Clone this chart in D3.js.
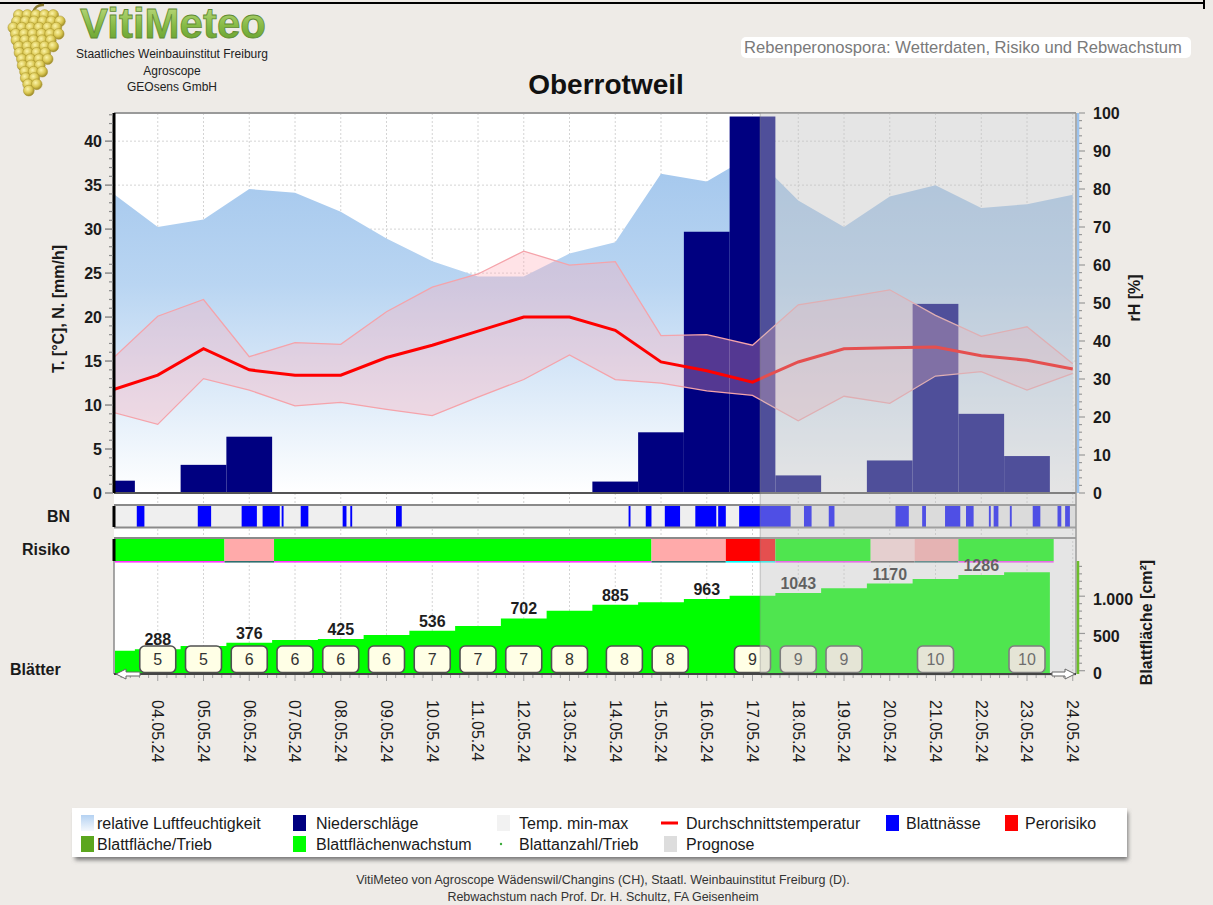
<!DOCTYPE html>
<html lang="de">
<head>
<meta charset="utf-8">
<title>VitiMeteo Oberrotweil</title>
<script src="https://d3js.org/d3.v7.min.js"></script>
<style>
  body { margin: 0; background: #EEEBE7; }
  svg { display: block; font-family: "Liberation Sans", Arial, sans-serif; }
</style>
</head>
<body>
<div id="chart"></div>
<script>
// daily values, index 0 = 03.05.24
const dates = ['03.05.24','04.05.24','05.05.24','06.05.24','07.05.24','08.05.24','09.05.24','10.05.24',
  '11.05.24','12.05.24','13.05.24','14.05.24','15.05.24','16.05.24','17.05.24','18.05.24','19.05.24',
  '20.05.24','21.05.24','22.05.24','23.05.24','24.05.24'];
const humidity = [79, 70, 72, 80, 79, 74, 67, 61, 57, 57, 63, 66, 84, 82, 89, 77, 70, 78, 81, 75, 76, 78.5];
const tempMean = [11.7, 13.4, 16.4, 14.0, 13.4, 13.4, 15.4, 16.8, 18.4, 20.0, 20.0, 18.5, 14.9, 13.9, 12.6, 14.9, 16.4, 16.5, 16.6, 15.6, 15.1, 14.1];
const tempMax = [15.2, 20.1, 22.0, 15.5, 17.1, 16.9, 20.6, 23.4, 24.9, 27.5, 25.9, 26.3, 17.9, 18.0, 16.8, 21.4, 22.2, 23.1, 20.2, 17.8, 18.9, 14.7];
const tempMin = [9.2, 7.8, 13.0, 11.7, 9.9, 10.3, 9.5, 8.8, 10.9, 12.9, 15.7, 12.9, 12.5, 11.6, 11.1, 8.2, 11.0, 10.2, 13.3, 13.8, 11.7, 13.6];
const rain = [1.4, 0, 3.2, 6.4, 0, 0, 0, 0, 0, 0, 0, 1.3, 6.9, 29.7, 42.8, 2.0, 0, 3.7, 21.5, 9.0, 4.2, 0];

// leaf wetness periods, hours after 03.05.24 00:00
const wetFrom = [13, 45, 68, 79, 89, 99, 121, 125, 149, 271, 280, 290, 306, 318, 329, 363, 376, 411, 425, 437, 448, 460, 462.5, 471, 483, 496, 500];
const wetTo   = [17, 52, 76, 88, 90, 103, 123, 126, 152, 272, 283, 298, 317, 322, 356, 367, 379, 418, 427, 445, 452, 461, 465, 472, 487, 498, 502.5];

// infection risk periods, hours after 03.05.24 00:00
const riskFrom  = [0, 59, 85, 283, 322, 348, 398, 421, 444];
const riskTo    = [59, 85, 283, 322, 348, 398, 421, 444, 494];
const riskLevel = ['low', 'mid', 'low', 'mid', 'high', 'low', 'slight', 'mid', 'low'];

// leaf area per shoot [cm²], index 0 = 03.05.24
const leafArea = [268, 288, 332, 376, 412, 425, 479, 536, 600, 702, 805, 885, 918, 963, 1007, 1043, 1106, 1170, 1231, 1286, 1321];
const leafLabelDays = [1, 3, 5, 7, 9, 11, 13, 15, 17, 19];
const leafCountDay = [1, 2, 3, 4, 5, 6, 7, 8, 9, 10, 11.2, 12.2, 14, 15, 16, 18, 20];
const leafCount    = [5, 5, 6, 6, 6, 6, 7, 7, 7, 8, 8, 8, 9, 9, 9, 10, 10];

const forecastStart = 14.17;
const tempTicks = [0, 5, 10, 15, 20, 25, 30, 35, 40];
const humTicks = [0, 10, 20, 30, 40, 50, 60, 70, 80, 90, 100];
const areaTicks = [0, 500, 1000];

const riskColor = { low: '#00FF00', slight: '#FFDADA', mid: '#FFAAAA', high: '#FF0000' };
const riskLine  = { low: '#FF33FF', slight: '#555555', mid: '#2F6F6F', high: '#00FFFF' };

const W = 1213, H = 905;
const plotL = 114, plotR = 1076;
const mainTop = 113, mainBot = 493;
const bnTop = 506, bnBot = 527;
const riskTop = 539, riskBot = 561;
const leafTop = 561, leafBot = 674;

const svg = d3.select('#chart').append('svg').attr('width', W).attr('height', H);
const defs = svg.append('defs');

const x = d3.scaleLinear().domain([0, 21]).range([112, 1072.75]);
const yT = d3.scaleLinear().domain([0, 43.2]).range([mainBot, mainTop]);
const yH = d3.scaleLinear().domain([0, 100]).range([mainBot, mainTop]);
const yA = d3.scaleLinear().domain([0, 1000]).range([670.7, 596.2]);
const xh = h => x(h / 24);

defs.append('clipPath').attr('id', 'clipMain')
  .append('rect').attr('x', plotL).attr('y', mainTop).attr('width', plotR - plotL).attr('height', mainBot - mainTop);
defs.append('clipPath').attr('id', 'clipAll')
  .append('rect').attr('x', plotL + 1).attr('y', mainTop).attr('width', plotR - plotL - 1).attr('height', leafBot - mainTop);

const humGrad = defs.append('linearGradient').attr('id', 'humGrad')
  .attr('gradientUnits', 'userSpaceOnUse').attr('x1', 0).attr('x2', 0).attr('y1', mainTop).attr('y2', mainBot);
humGrad.append('stop').attr('offset', 0).attr('stop-color', '#9CC2EB');
humGrad.append('stop').attr('offset', 0.45).attr('stop-color', '#B9D5F2');
humGrad.append('stop').attr('offset', 1).attr('stop-color', '#FFFFFF');

const legGrad = defs.append('linearGradient').attr('id', 'legGrad').attr('x1', 0).attr('x2', 0).attr('y1', 0).attr('y2', 1);
legGrad.append('stop').attr('offset', 0).attr('stop-color', '#B5D2F2');
legGrad.append('stop').attr('offset', 1).attr('stop-color', '#F4F8FD');

const logoGrad = defs.append('linearGradient').attr('id', 'logoGrad').attr('x1', 0).attr('x2', 0).attr('y1', 0).attr('y2', 1);
logoGrad.append('stop').attr('offset', 0).attr('stop-color', '#C9E28C');
logoGrad.append('stop').attr('offset', 0.55).attr('stop-color', '#86BA45');
logoGrad.append('stop').attr('offset', 1).attr('stop-color', '#5E9A2A');

const grapeGrad = defs.append('radialGradient').attr('id', 'grapeGrad').attr('cx', 0.4).attr('cy', 0.35).attr('r', 0.65);
grapeGrad.append('stop').attr('offset', 0).attr('stop-color', '#FBF3A8');
grapeGrad.append('stop').attr('offset', 0.6).attr('stop-color', '#D9C650');
grapeGrad.append('stop').attr('offset', 1).attr('stop-color', '#9C8A28');

defs.append('filter').attr('id', 'blur').append('feGaussianBlur').attr('stdDeviation', 2);

svg.append('rect').attr('width', W).attr('height', H).attr('fill', '#EEEBE7');
svg.append('line').attr('x1', 0).attr('x2', 1204).attr('y1', 3).attr('y2', 3).attr('stroke', '#000').attr('stroke-width', 2);
svg.append('line').attr('x1', 1204).attr('x2', 1204).attr('y1', 0).attr('y2', 9).attr('stroke', '#000').attr('stroke-width', 2);

// logo: grape cluster drawn from rows of berries
const logo = svg.append('g');
const berryRows = [5, 6, 6, 6, 5, 5, 4, 4, 3, 3, 2, 2, 1];
logo.append('path').attr('d', 'M33,12 Q36,4 44,5').attr('fill', 'none').attr('stroke', '#8A7A30').attr('stroke-width', 2.5);
berryRows.forEach((n, r) => {
  const cx0 = 37 - r * 0.6 - (n - 1) * 4.3 + (r % 2 ? 2 : -1);
  for (let k = 0; k < n; k++) {
    logo.append('circle')
      .attr('cx', cx0 + k * 8.6)
      .attr('cy', 15 + r * 6.3)
      .attr('r', 5.4)
      .attr('fill', 'url(#grapeGrad)')
      .attr('stroke', '#A8952F').attr('stroke-width', 0.5);
  }
});
logo.append('text').attr('x', 80).attr('y', 38).text('VitiMeteo')
  .attr('font-size', 42).attr('font-weight', 'bold')
  .attr('fill', 'url(#logoGrad)').attr('stroke', '#5F8A33').attr('stroke-width', 0.8);
[['Staatliches Weinbauinstitut Freiburg', 58], ['Agroscope', 75], ['GEOsens GmbH', 91]].forEach(([t, yy]) => {
  logo.append('text').attr('x', 172).attr('y', yy).attr('text-anchor', 'middle')
    .attr('font-size', 12).attr('fill', '#222').text(t);
});

svg.append('rect').attr('x', 741).attr('y', 37).attr('width', 450).attr('height', 21).attr('rx', 5).attr('fill', '#fff');
svg.append('text').attr('x', 744).attr('y', 53).attr('font-size', 16.6).attr('fill', '#7A7A7A')
  .text('Rebenperonospora: Wetterdaten, Risiko und Rebwachstum');

svg.append('text').attr('x', 606).attr('y', 94).attr('text-anchor', 'middle')
  .attr('font-size', 28).attr('font-weight', 'bold').attr('fill', '#111').text('Oberrotweil');

// plot background and grid
svg.append('rect').attr('x', plotL).attr('y', mainTop).attr('width', plotR - plotL).attr('height', leafBot - mainTop).attr('fill', '#fff');
const grid = svg.append('g').attr('stroke', '#D4D4D4').attr('stroke-dasharray', '2,2').attr('stroke-width', 1);
d3.range(1, 22).forEach(d => {
  grid.append('line').attr('x1', x(d)).attr('x2', x(d)).attr('y1', mainTop).attr('y2', leafBot);
});
tempTicks.slice(1).forEach(t => {
  grid.append('line').attr('x1', plotL).attr('x2', plotR).attr('y1', yT(t)).attr('y2', yT(t));
});

// main panel
const main = svg.append('g').attr('clip-path', 'url(#clipMain)');
main.append('path').datum(humidity)
  .attr('d', d3.area().x((d, i) => x(i)).y0(yH(0)).y1(d => yH(d)))
  .attr('fill', 'url(#humGrad)');
main.selectAll('rect.rain').data(rain).enter().append('rect')
  .attr('class', 'rain')
  .attr('x', (d, i) => x(i - 0.5))
  .attr('width', (d, i) => x(i + 0.5) - x(i - 0.5))
  .attr('y', d => yT(d))
  .attr('height', d => yT(0) - yT(d))
  .attr('fill', '#000080');
main.append('path').datum(d3.range(dates.length))
  .attr('d', d3.area().x(i => x(i)).y0(i => yT(tempMin[i])).y1(i => yT(tempMax[i])))
  .attr('fill', 'rgba(255,170,182,0.33)');
[tempMin, tempMax].forEach(s => {
  main.append('path').datum(s)
    .attr('d', d3.line().x((d, i) => x(i)).y(d => yT(d)))
    .attr('fill', 'none').attr('stroke', '#F5A3AA').attr('stroke-width', 1.3);
});
main.append('path').datum(tempMean)
  .attr('d', d3.line().x((d, i) => x(i)).y(d => yT(d)))
  .attr('fill', 'none').attr('stroke', '#FF0000').attr('stroke-width', 3);

svg.append('line').attr('x1', plotL).attr('x2', plotR).attr('y1', mainTop).attr('y2', mainTop).attr('stroke', '#9A9A9A').attr('stroke-width', 2);
svg.append('line').attr('x1', plotL).attr('x2', plotR).attr('y1', mainBot).attr('y2', mainBot).attr('stroke', '#555').attr('stroke-width', 2);

// BN strip
svg.append('rect').attr('x', plotL).attr('y', bnTop).attr('width', plotR - plotL).attr('height', bnBot - bnTop).attr('fill', '#EFEFEF');
svg.append('g').selectAll('rect').data(wetFrom).enter().append('rect')
  .attr('x', d => xh(d))
  .attr('width', (d, i) => xh(wetTo[i]) - xh(d))
  .attr('y', bnTop).attr('height', bnBot - bnTop)
  .attr('fill', '#0000FF');
[bnTop - 1, bnBot + 0.5].forEach(yy => {
  svg.append('line').attr('x1', plotL).attr('x2', plotR).attr('y1', yy).attr('y2', yy).attr('stroke', '#8A8A8A').attr('stroke-width', 2);
});

// risk strip
svg.append('line').attr('x1', plotL).attr('x2', plotR).attr('y1', riskTop - 1).attr('y2', riskTop - 1).attr('stroke', '#8A8A8A').attr('stroke-width', 2);
const risk = svg.append('g').attr('clip-path', 'url(#clipAll)');
risk.selectAll('rect.seg').data(riskFrom).enter().append('rect')
  .attr('class', 'seg')
  .attr('x', d => xh(d))
  .attr('width', (d, i) => xh(riskTo[i]) - xh(d))
  .attr('y', riskTop).attr('height', riskBot - riskTop)
  .attr('fill', (d, i) => riskColor[riskLevel[i]]);
risk.selectAll('rect.under').data(riskFrom).enter().append('rect')
  .attr('class', 'under')
  .attr('x', d => xh(d))
  .attr('width', (d, i) => xh(riskTo[i]) - xh(d))
  .attr('y', riskBot).attr('height', 1.6)
  .attr('fill', (d, i) => riskLine[riskLevel[i]]);

// leaf panel
const leaf = svg.append('g').attr('clip-path', 'url(#clipAll)');
const leafSteps = leafArea.map((v, i) => [i - 0.5, v]).concat([[leafArea.length - 0.5, leafArea[leafArea.length - 1]]]);
leaf.append('path').datum(leafSteps)
  .attr('d', d3.area().curve(d3.curveStepAfter).x(d => x(d[0])).y0(leafBot).y1(d => yA(d[1])))
  .attr('fill', '#00FF00');
leaf.selectAll('text.area').data(leafLabelDays).enter().append('text')
  .attr('class', 'area')
  .attr('x', d => x(d)).attr('y', d => yA(leafArea[d]) - 4)
  .attr('text-anchor', 'middle').attr('font-size', 16).attr('font-weight', 'bold').attr('fill', '#1E1E1E')
  .text(d => leafArea[d]);
const boxes = leaf.selectAll('g.box').data(leafCountDay).enter().append('g').attr('class', 'box');
boxes.append('rect')
  .attr('x', d => x(d) - 18).attr('y', 646).attr('width', 36).attr('height', 26.5).attr('rx', 5)
  .attr('fill', '#FFFFE6').attr('stroke', '#505050').attr('stroke-width', 1.6);
boxes.append('text')
  .attr('x', d => x(d)).attr('y', 665).attr('text-anchor', 'middle')
  .attr('font-size', 16).attr('fill', '#333')
  .text((d, i) => leafCount[i]);

// forecast overlay
svg.append('rect').attr('x', x(forecastStart)).attr('y', mainTop).attr('width', plotR - x(forecastStart)).attr('height', leafBot + 2 - mainTop)
  .attr('fill', 'rgba(192,192,192,0.41)');
svg.append('line').attr('x1', x(forecastStart)).attr('x2', x(forecastStart)).attr('y1', mainTop).attr('y2', leafBot)
  .attr('stroke', 'rgba(140,140,140,0.35)').attr('stroke-width', 1.5);

// left axis
const leftAx = svg.append('g');
leftAx.append('line').attr('x1', plotL).attr('x2', plotL).attr('y1', mainTop).attr('y2', mainBot).attr('stroke', '#000').attr('stroke-width', 3);
d3.range(0, 44).forEach(t => {
  const major = t % 5 === 0;
  leftAx.append('line').attr('x1', plotL - (major ? 9 : 5)).attr('x2', plotL - 1).attr('y1', yT(t)).attr('y2', yT(t))
    .attr('stroke', '#8A8A8A').attr('stroke-width', major ? 1.5 : 1.2);
});
leftAx.selectAll('text').data(tempTicks).enter().append('text')
  .attr('x', 102).attr('y', d => yT(d)).attr('dy', '0.35em').attr('text-anchor', 'end')
  .attr('font-size', 16).attr('font-weight', 'bold').attr('fill', '#1A1A1A')
  .text(d => d);
svg.append('text').attr('transform', `translate(64,${(mainTop + mainBot) / 2 + 6}) rotate(-90)`)
  .attr('text-anchor', 'middle').attr('font-size', 16).attr('font-weight', 'bold').attr('fill', '#1A1A1A')
  .text('T. [°C], N. [mm/h]');

// right axis
const rightAx = svg.append('g');
svg.append('line').attr('x1', plotR).attr('x2', plotR).attr('y1', mainTop).attr('y2', leafBot).attr('stroke', '#9A9A9A').attr('stroke-width', 1.5);
rightAx.append('line').attr('x1', 1078).attr('x2', 1078).attr('y1', mainTop).attr('y2', mainBot).attr('stroke', '#9CC3EE').attr('stroke-width', 2.5);
d3.range(0, 101, 2).forEach(h => {
  const major = h % 10 === 0;
  rightAx.append('line').attr('x1', 1079).attr('x2', 1079 + (major ? 6 : 3)).attr('y1', yH(h)).attr('y2', yH(h))
    .attr('stroke', '#9A9A9A').attr('stroke-width', 1.2);
});
rightAx.selectAll('text').data(humTicks).enter().append('text')
  .attr('x', 1093).attr('y', d => yH(d)).attr('dy', '0.35em')
  .attr('font-size', 16).attr('font-weight', 'bold').attr('fill', '#1A1A1A')
  .text(d => d);
svg.append('text').attr('transform', `translate(1140,${(mainTop + mainBot) / 2 - 5}) rotate(-90)`)
  .attr('text-anchor', 'middle').attr('font-size', 16).attr('font-weight', 'bold').attr('fill', '#1A1A1A')
  .text('rH [%]');

// strip side marks and labels
[[bnTop, bnBot], [riskTop, riskBot]].forEach(([a, b]) => {
  svg.append('line').attr('x1', plotL).attr('x2', plotL).attr('y1', a).attr('y2', b).attr('stroke', '#000').attr('stroke-width', 3);
});
svg.append('line').attr('x1', plotL).attr('x2', plotL).attr('y1', leafTop).attr('y2', leafBot).attr('stroke', '#8A8A8A').attr('stroke-width', 1.5);
[['BN', 47, 522], ['Risiko', 22, 555], ['Blätter', 10, 675]].forEach(([t, xx, yy]) => {
  svg.append('text').attr('x', xx).attr('y', yy).attr('font-size', 16).attr('font-weight', 'bold').attr('fill', '#1A1A1A').text(t);
});

// leaf area axis
const areaAx = svg.append('g');
areaAx.append('line').attr('x1', 1078).attr('x2', 1078).attr('y1', leafTop).attr('y2', leafBot).attr('stroke', '#6DBE2C').attr('stroke-width', 2.5);
d3.range(0, 1401, 100).forEach(v => {
  const major = v % 500 === 0;
  areaAx.append('line').attr('x1', 1079).attr('x2', 1079 + (major ? 6 : 3)).attr('y1', yA(v)).attr('y2', yA(v))
    .attr('stroke', '#9A9A9A').attr('stroke-width', 1.2);
});
areaAx.selectAll('text').data(areaTicks).enter().append('text')
  .attr('x', 1093).attr('y', d => yA(d) + 3).attr('dy', '0.35em')
  .attr('font-size', 16).attr('font-weight', 'bold').attr('fill', '#1A1A1A')
  .text(d => d3.format(',')(d).replace(',', '.'));
svg.append('text').attr('transform', `translate(1152,${(leafTop + leafBot) / 2 + 5}) rotate(-90)`)
  .attr('text-anchor', 'middle').attr('font-size', 16).attr('font-weight', 'bold').attr('fill', '#1A1A1A')
  .text('Blattfläche [cm²]');

// time axis
const timeAx = svg.append('g');
timeAx.append('line').attr('x1', plotL).attr('x2', plotR).attr('y1', leafBot).attr('y2', leafBot).attr('stroke', '#444').attr('stroke-width', 2);
d3.range(0, 21.01, 0.2).forEach(d => {
  const major = Math.abs(d - Math.round(d)) < 0.01;
  if (x(d) < plotL) return;
  timeAx.append('line').attr('x1', x(d)).attr('x2', x(d)).attr('y1', leafBot + 1).attr('y2', leafBot + (major ? 7 : 4))
    .attr('stroke', '#A0A0A0').attr('stroke-width', 1);
});
timeAx.selectAll('text').data(dates.slice(1)).enter().append('text')
  .attr('transform', (d, i) => `translate(${x(i + 1)},700) rotate(90)`)
  .attr('dy', '0.35em').attr('font-size', 16).attr('fill', '#1A1A1A')
  .text(d => d);

// end arrows
svg.append('path').attr('d', 'M116,674 L126,669 L126,672 L140,672 L140,676 L126,676 L126,679 Z')
  .attr('fill', '#fff').attr('stroke', '#666').attr('stroke-width', 1);
svg.append('path').attr('d', 'M1075,674 L1065,669 L1065,672 L1052,672 L1052,676 L1065,676 L1065,679 Z')
  .attr('fill', '#fff').attr('stroke', '#666').attr('stroke-width', 1);

// legend
const legend = svg.append('g');
legend.append('rect').attr('x', 75).attr('y', 812).attr('width', 1053).attr('height', 48).attr('fill', '#777').attr('filter', 'url(#blur)');
legend.append('rect').attr('x', 72).attr('y', 808).attr('width', 1055).attr('height', 49).attr('fill', '#fff');
const legendItems = [
  { label: 'relative Luftfeuchtigkeit', kind: 'box', fill: 'url(#legGrad)', sx: 81, tx: 97, row: 0 },
  { label: 'Niederschläge', kind: 'box', fill: '#000080', sx: 293, tx: 316, row: 0 },
  { label: 'Temp. min-max', kind: 'box', fill: '#F2F2F2', sx: 497, tx: 519, row: 0 },
  { label: 'Durchschnittstemperatur', kind: 'line', fill: '#FF0000', sx: 661, tx: 686, row: 0 },
  { label: 'Blattnässe', kind: 'box', fill: '#0000FF', sx: 886, tx: 906, row: 0 },
  { label: 'Perorisiko', kind: 'box', fill: '#FF0000', sx: 1005, tx: 1025, row: 0 },
  { label: 'Blattfläche/Trieb', kind: 'box', fill: '#5BA61E', sx: 81, tx: 97, row: 1 },
  { label: 'Blattflächenwachstum', kind: 'box', fill: '#00FF00', sx: 293, tx: 316, row: 1 },
  { label: 'Blattanzahl/Trieb', kind: 'dot', fill: '#3BAA3B', sx: 501, tx: 519, row: 1 },
  { label: 'Prognose', kind: 'box', fill: '#DDDDDD', sx: 664, tx: 686, row: 1 }
];
legendItems.forEach(it => {
  const cy = 823 + it.row * 21;
  if (it.kind === 'box') {
    legend.append('rect').attr('x', it.sx).attr('y', cy - 8).attr('width', 13).attr('height', 16).attr('fill', it.fill);
  } else if (it.kind === 'line') {
    legend.append('rect').attr('x', it.sx).attr('y', cy - 1.5).attr('width', 17).attr('height', 3).attr('fill', it.fill);
  } else {
    legend.append('circle').attr('cx', it.sx).attr('cy', cy).attr('r', 1.2).attr('fill', it.fill);
  }
  legend.append('text').attr('x', it.tx).attr('y', cy).attr('dy', '0.35em')
    .attr('font-size', 16).attr('fill', '#1A1A1A').text(it.label);
});

svg.append('text').attr('x', 603).attr('y', 884).attr('text-anchor', 'middle').attr('font-size', 12.5).attr('fill', '#333')
  .text('VitiMeteo von Agroscope Wädenswil/Changins (CH), Staatl. Weinbauinstitut Freiburg (D).');
svg.append('text').attr('x', 603).attr('y', 901).attr('text-anchor', 'middle').attr('font-size', 12.5).attr('fill', '#333')
  .text('Rebwachstum nach Prof. Dr. H. Schultz, FA Geisenheim');
</script>
</body>
</html>
